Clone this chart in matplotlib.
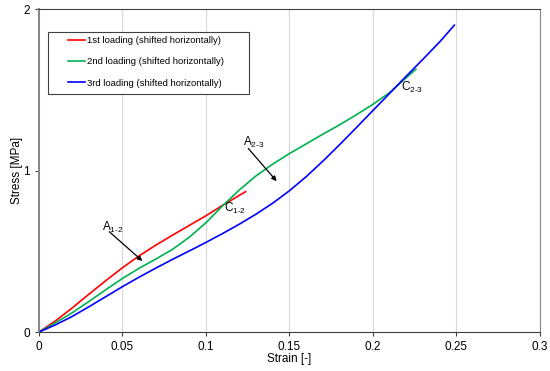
import matplotlib.pyplot as plt
from matplotlib.patches import Rectangle

plt.rcParams["font.family"] = ["Liberation Sans", "DejaVu Sans"]
plt.rcParams["mathtext.fontset"] = "custom"
plt.rcParams["mathtext.rm"] = "Liberation Sans"
plt.rcParams["mathtext.it"] = "Liberation Sans"

# 1st loading
strain_1 = [0, 0.01, 0.02, 0.03, 0.04, 0.05, 0.06, 0.07, 0.08, 0.09, 0.1, 0.11, 0.1237]
stress_1 = [0, 0.07, 0.15, 0.235, 0.318, 0.398, 0.472, 0.538, 0.60, 0.66, 0.72, 0.785, 0.869]

# 2nd loading
strain_2 = [0, 0.01, 0.02, 0.03, 0.04, 0.05, 0.06, 0.07, 0.08, 0.09, 0.1, 0.11, 0.12,
            0.13, 0.14, 0.15, 0.16, 0.17, 0.18, 0.19, 0.2, 0.21, 0.2172, 0.2257]
stress_2 = [0, 0.058, 0.12, 0.19, 0.262, 0.332, 0.395, 0.452, 0.512, 0.587, 0.677, 0.782, 0.88,
            0.967, 1.04, 1.105, 1.165, 1.225, 1.283, 1.345, 1.41, 1.483, 1.55, 1.627]

# 3rd loading
strain_3 = [0, 0.01, 0.02, 0.03, 0.04, 0.05, 0.06, 0.07, 0.08, 0.09, 0.1, 0.11, 0.12,
            0.13, 0.14, 0.15, 0.16, 0.17, 0.18, 0.19, 0.2, 0.21, 0.22, 0.23, 0.24, 0.2487]
stress_3 = [0, 0.045, 0.097, 0.157, 0.219, 0.281, 0.34, 0.396, 0.45, 0.502, 0.555, 0.61, 0.668,
            0.73, 0.798, 0.875, 0.962, 1.058, 1.16, 1.265, 1.372, 1.478, 1.585, 1.69, 1.797, 1.90]

labels = ["1st loading (shifted horizontally)",
          "2nd loading (shifted horizontally)",
          "3rd loading (shifted horizontally)"]
colors = ["#ff0000", "#00b050", "#0000ff"]

x_ticks = [0, 0.05, 0.1, 0.15, 0.2, 0.25, 0.3]
x_tick_labels = ["0", "0.05", "0.1", "0.15", "0.2", "0.25", "0.3"]
y_ticks = [0, 1, 2]

fig = plt.figure(figsize=(5.5, 3.71), dpi=100)
ax = fig.add_axes([0.0709, 0.1051, 0.9109, 0.8706])

for sx, sy, lab, col in zip([strain_1, strain_2, strain_3],
                            [stress_1, stress_2, stress_3], labels, colors):
    ax.plot(sx, sy, color=col, linewidth=1.2, label=lab)

ax.set_xlim(0, 0.3)
ax.set_ylim(0, 2)
ax.set_xticks(x_ticks, x_tick_labels)
ax.set_yticks(y_ticks)
ax.tick_params(labelsize=8.5, direction="out", length=3, width=0.8, colors="#404040",
               labelcolor="black")
ax.grid(axis="x", color="#d9d9d9", linewidth=0.8)
ax.set_axisbelow(True)

ax.spines["top"].set_color("#404040")
ax.spines["bottom"].set_color("#404040")
ax.spines["left"].set_color("#868686")
ax.spines["left"].set_linewidth(1.4)
ax.spines["right"].set_color("#868686")

ax.set_xlabel("Strain [-]", fontsize=8.5, labelpad=0)
ax.set_ylabel("Stress [MPa]", fontsize=8.5, labelpad=0.5)

# legend box
ax.add_patch(Rectangle((0.0186, 0.736), 0.4012, 0.194, transform=ax.transAxes,
                       facecolor="white", edgecolor="#404040", linewidth=0.8, zorder=4))
ax.legend(loc="upper left", bbox_to_anchor=(0.058, 0.916), frameon=False,
          borderpad=0, borderaxespad=0, fontsize=6.8, handlelength=1.8,
          handletextpad=0.25, labelspacing=1.3).set_zorder(5)

# annotations
arrow = dict(arrowstyle="-|>", color="black", linewidth=0.9, mutation_scale=7,
             shrinkA=0, shrinkB=0)
ax.annotate("", xy=(0.0619, 0.44), xytext=(0.0421, 0.621), arrowprops=arrow)
ax.annotate("", xy=(0.1423, 0.934), xytext=(0.1253, 1.137), arrowprops=arrow)
ax.text(0.0377, 0.65, r"A$_{\mathrm{1\text{-}2}}$", fontsize=8.5, ha="left", va="center")
ax.text(0.1222, 1.176, r"A$_{\mathrm{2\text{-}3}}$", fontsize=8.5, ha="left", va="center")
ax.text(0.1109, 0.766, r"C$_{\mathrm{1\text{-}2}}$", fontsize=8.5, ha="left", va="center")
ax.text(0.2168, 1.517, r"C$_{\mathrm{2\text{-}3}}$", fontsize=8.5, ha="left", va="center")

fig.savefig("out.png", dpi=100)
